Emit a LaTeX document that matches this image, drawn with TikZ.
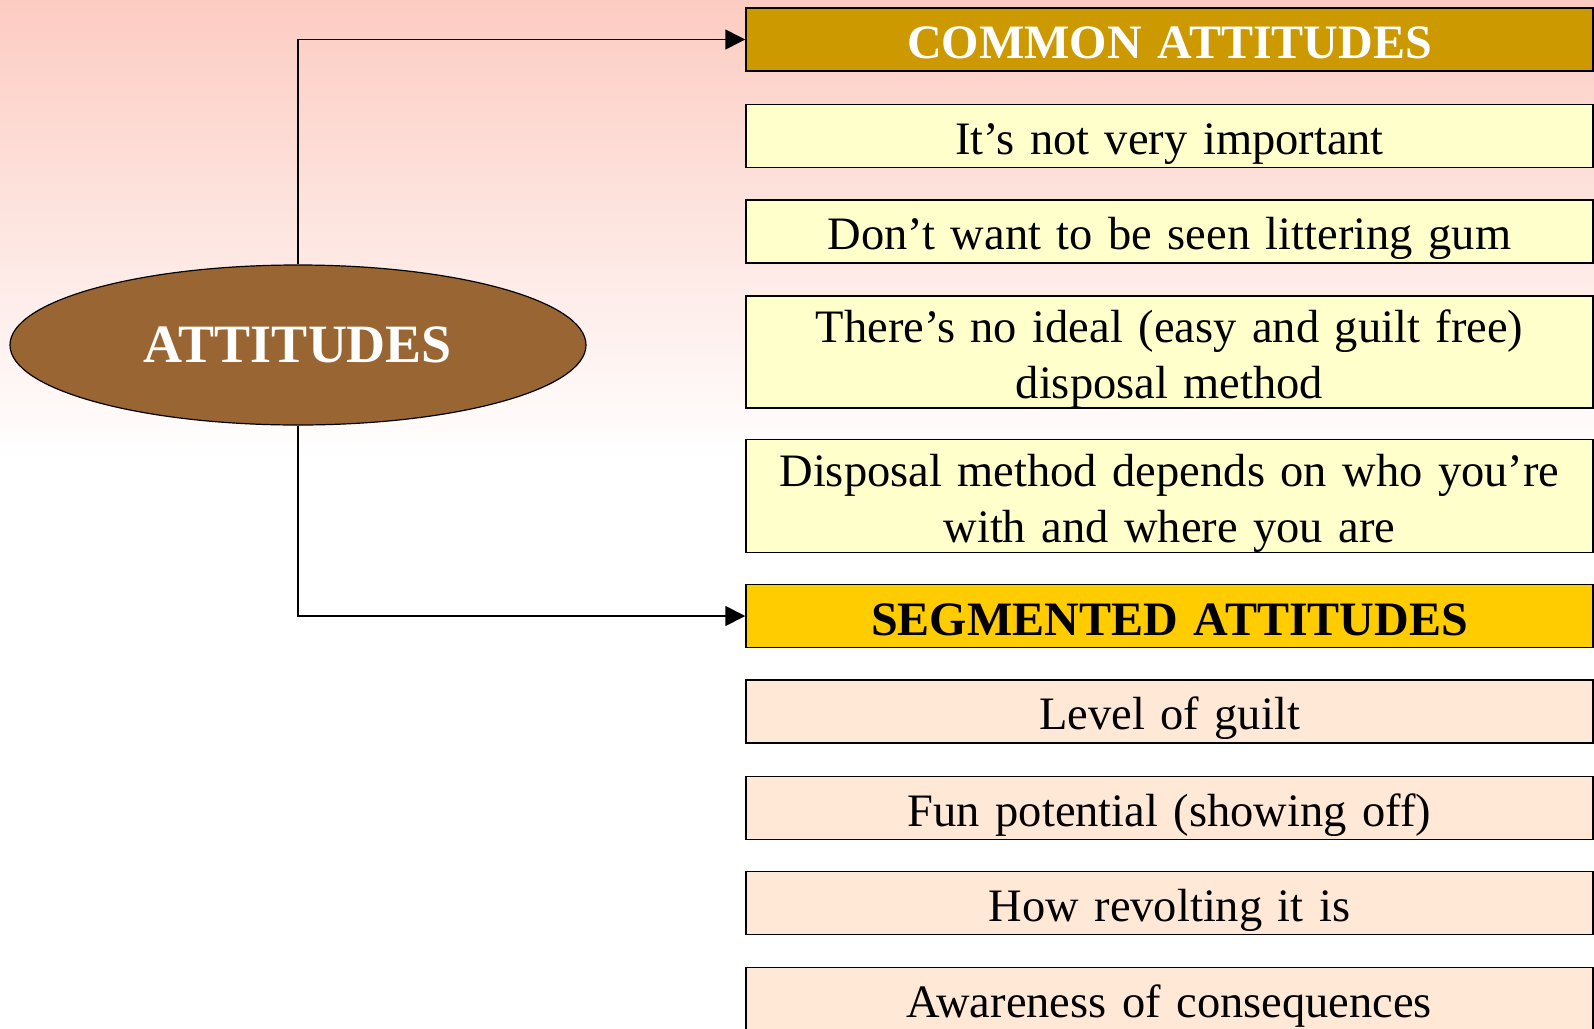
\documentclass[tikz,border=0pt]{standalone}
\usepackage{fontspec}
\setmainfont{Liberation Serif}
\usetikzlibrary{shapes.geometric,arrows.meta}
\definecolor{bgpink}{RGB}{252,204,194}
\definecolor{commonfill}{RGB}{204,153,0}
\definecolor{itemfill}{RGB}{255,255,204}
\definecolor{segfill}{RGB}{255,204,0}
\definecolor{peachfill}{RGB}{255,233,214}
\definecolor{hubfill}{RGB}{153,102,51}
\begin{document}
\begin{tikzpicture}[x=1pt,y=-1pt,
	box/.style={draw,line width=1.5pt,minimum width=847pt,minimum height=63pt,text width=830pt,
		align=center,inner sep=0pt,font=\fontsize{46.5}{56}\selectfont,
		execute at begin node={\rule{0pt}{1.0em}},execute at end node={\rule[-0.2em]{0pt}{0.2em}}},
	twoline/.style={box,minimum height=112pt},
	head/.style={box,font=\fontsize{48}{56}\selectfont\bfseries},
	link/.style={line width=1.6pt,-{Triangle[length=20pt,width=20pt]}}]
	\useasboundingbox (0,0) rectangle (1594,1028);
	\clip (0,0) rectangle (1594,1028);
	
	% background
	\fill[white] (0,0) rectangle (1594,1028);
	\shade[top color=bgpink,bottom color=white] (0,0) rectangle (1594,460);
	
	% hub
	\node[ellipse,draw,line width=1.2pt,fill=hubfill,minimum width=576pt,minimum height=160pt,
		text=white,font=\fontsize{54}{60}\selectfont\bfseries] (att) at (298,345) {ATTITUDES};
	
	% common attitudes
	\node[head,fill=commonfill,text=white] (common) at (1169.5,39.5) {COMMON ATTITUDES};
	\node[box,fill=itemfill] (notimp) at (1169.5,136) {It’s not very important};
	\node[box,fill=itemfill] (seen) at (1169.5,231.5) {Don’t want to be seen littering gum};
	\node[twoline,fill=itemfill] (ideal) at (1169.5,352) {There’s no ideal (easy and guilt free)\\disposal method};
	\node[twoline,fill=itemfill] (depends) at (1169.5,496) {Disposal method depends on who you’re\\with and where you are};
	
	% segmented attitudes
	\node[head,fill=segfill] (segment) at (1169.5,616) {SEGMENTED ATTITUDES};
	\node[box,fill=peachfill] (guilt) at (1169.5,711.5) {Level of guilt};
	\node[box,fill=peachfill] (fun) at (1169.5,808) {Fun potential (showing off)};
	\node[box,fill=peachfill] (revolt) at (1169.5,903) {How revolting it is};
	\node[box,fill=peachfill] (aware) at (1169.5,999) {Awareness of consequences};
	
	\draw[link] (att.north) |- (common.west);
	\draw[link] (att.south) |- (segment.west);
\end{tikzpicture}
\end{document}
